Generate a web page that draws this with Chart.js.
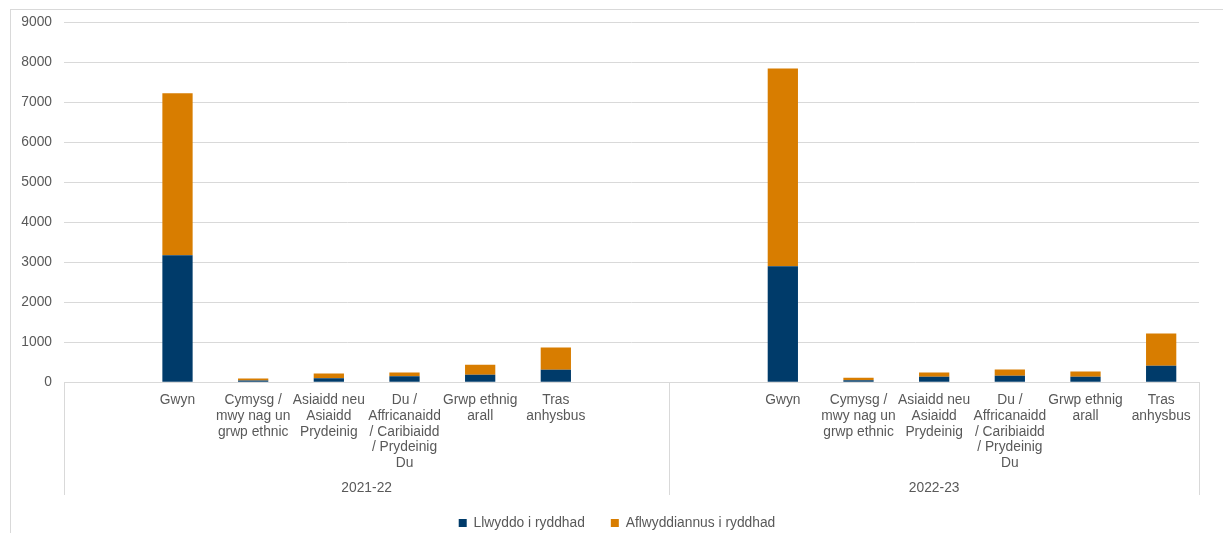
<!DOCTYPE html>
<html lang="cy">

<head>
  <meta charset="UTF-8">
  <meta name="viewport" content="width=device-width, initial-scale=1.0">
  <script src="https://cdn.jsdelivr.net/npm/chart.js"></script>
  <title>Rhyddhad yn ôl ethnigrwydd</title>
  <style>
    html, body { margin: 0; padding: 0; background: #fff; overflow: hidden; }
    .ffram {
      position: absolute; left: 10px; top: 9px; width: 1400px; height: 700px;
      border: 1px solid #d9d9d9; box-sizing: border-box;
    }
    .grafico { position: absolute; left: 0; top: 0; width: 1223px; height: 533px; }
  </style>
</head>

<body>
  <div class="ffram"></div>
  <div class="grafico">
    <canvas id="chartBar"></canvas>
  </div>

<script>
  // categorïau ar gyfer pob blwyddyn
  const categorïau = [
    'Gwyn',
    ['Cymysg /', 'mwy nag un', 'grwp ethnic'],
    ['Asiaidd neu', 'Asiaidd', 'Prydeinig'],
    ['Du /', 'Affricanaidd', '/ Caribiaidd', '/ Prydeinig', 'Du'],
    ['Grwp ethnig', 'arall'],
    ['Tras', 'anhysbus']
  ]
  const blynyddoedd = ['2021-22', '2022-23']

  // gwerthoedd wedi eu darllen o'r siart
  const llwyddo2122 = [3175, 45, 100, 150, 185, 310]
  const aflwyddiannus2122 = [4045, 50, 115, 90, 250, 555]
  const llwyddo2223 = [2900, 50, 135, 160, 135, 410]
  const aflwyddiannus2223 = [4940, 60, 105, 155, 130, 805]

  const ticiauY = [0, 1000, 2000, 3000, 4000, 5000, 6000, 7000, 8000, 9000]

  // slotiau gwag o amgylch pob grŵp (fel yn y siart gwreiddiol)
  const labels = [''].concat(categorïau, ['', ''], categorïau)
  const dataLlwyddo = [null].concat(llwyddo2122, [null, null], llwyddo2223)
  const dataAflw = [null].concat(aflwyddiannus2122, [null, null], aflwyddiannus2223)
  // ffiniau'r grwpiau (mynegai'r slot cyntaf ac olaf)
  const grwpiau = [[0, 7], [8, 14]]

  const ffont = '"Liberation Sans", Arial, sans-serif'
  const maint = 13.8
  const llwyd = '#595959'
  const grid = '#d9d9d9'

  const grwpPlugin = {
    id: 'grwpiau',
    afterLayout(chart) {
      // symud yr allwedd ychydig i'r dde fel yn y gwreiddiol
      chart.legend.left += 35
    },
    afterDraw(chart) {
      const x = chart.scales.x
      const ctx = chart.ctx
      const step = x.getPixelForValue(1) - x.getPixelForValue(0)
      const gwaelod = 495
      ctx.save()
      ctx.strokeStyle = grid
      ctx.lineWidth = 1
      ctx.fillStyle = llwyd
      ctx.font = maint + 'px ' + ffont
      ctx.textAlign = 'center'
      ctx.textBaseline = 'middle'
      grwpiau.forEach(function (g, i) {
        const chwith = x.getPixelForValue(g[0]) - step / 2
        const dde = x.getPixelForValue(g[1]) + step / 2
        ;[chwith, dde].forEach(function (px) {
          const p = Math.round(px) + 0.5
          ctx.beginPath()
          ctx.moveTo(p, x.top)
          ctx.lineTo(p, gwaelod)
          ctx.stroke()
        })
        ctx.fillText(blynyddoedd[i], (chwith + dde) / 2, 488)
      })
      ctx.restore()
    }
  }

  const config = {
    type: 'bar',
    data: {
      labels: labels,
      datasets: [{
        label: 'Llwyddo i ryddhad',
        data: dataLlwyddo,
        backgroundColor: '#003B6A',
        barPercentage: 0.5,
        categoryPercentage: 0.8
      }, {
        label: 'Aflwyddiannus i ryddhad',
        data: dataAflw,
        backgroundColor: '#D87D00',
        barPercentage: 0.5,
        categoryPercentage: 0.8
      }]
    },
    options: {
      responsive: true,
      maintainAspectRatio: false,
      animation: false,
      layout: { padding: { top: 22, right: 24, left: 0, bottom: -7 } },
      plugins: {
        legend: {
          position: 'bottom',
          labels: {
            color: llwyd,
            font: { family: ffont, size: maint },
            boxWidth: 8,
            boxHeight: 8,
            padding: 26
          }
        },
        tooltip: { enabled: false }
      },
      scales: {
        x: {
          stacked: true,
          grid: { display: false, drawTicks: false },
          border: { color: grid },
          ticks: {
            color: llwyd,
            font: { family: ffont, size: maint, lineHeight: 1.145 },
            autoSkip: false,
            maxRotation: 0,
            minRotation: 0,
            padding: 10
          },
          afterFit(scale) { scale.height = 108 }
        },
        y: {
          stacked: true,
          min: 0,
          max: 9000,
          afterBuildTicks(scale) { scale.ticks = ticiauY.map(v => ({ value: v })) },
          grid: { color: grid, drawTicks: false },
          border: { display: false },
          ticks: {
            color: llwyd,
            font: { family: ffont, size: maint },
            padding: 12,
            callback: function (v) { return String(v) }
          },
          afterFit(scale) { scale.width = 64 }
        }
      }
    },
    plugins: [grwpPlugin]
  }

  const bar = new Chart(document.getElementById('chartBar'), config)
</script>
</body>

</html>
